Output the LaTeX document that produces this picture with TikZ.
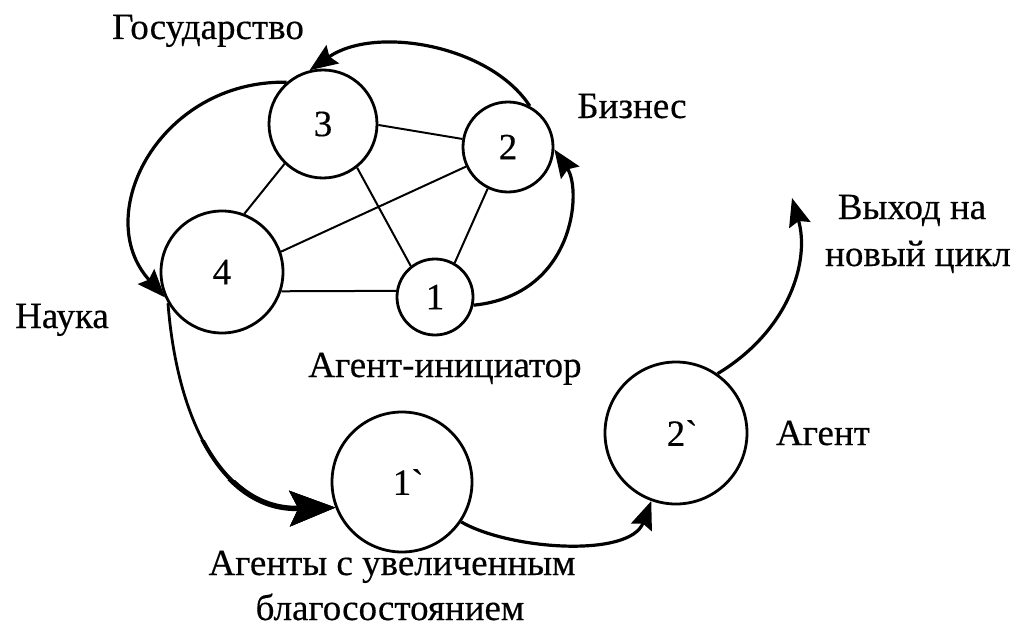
\documentclass[tikz,border=0pt]{standalone}
\usepackage{fontspec}
\setmainfont{LiberationSerif}[Extension=.ttf,UprightFont=*-Regular,BoldFont=*-Bold,FakeBold=0.4]
\usetikzlibrary{arrows.meta}
\begin{document}
\begin{tikzpicture}[x=1pt,y=-1pt,
  agent/.style={circle,draw,line width=2.8pt,inner sep=0pt,font=\fontsize{37}{40}\selectfont},
  link/.style={line width=2pt},
  flow/.style={line width=3.2pt,-{Stealth[length=28pt,width=22pt,inset=4pt]}},
  bigflow/.style={line width=2.8pt,-{Stealth[length=46pt,width=36pt,inset=9pt,line width=0pt]}},
  lbl/.style={font=\fontsize{37}{40}\selectfont,anchor=base,inner sep=0pt}]
\useasboundingbox (0,0) rectangle (1028,626);
% agents
\node[agent,minimum size=108pt] (n3) at (323,124) {3};
\node[agent,minimum size=90pt] (n2) at (508,147) {2};
\node[agent,minimum size=122pt] (n4) at (222,272) {4};
\node[agent,minimum size=76pt] (n1) at (435,297) {1};
\node[agent,minimum size=140pt] (n1p) at (402,482) {1\rlap{\textasciigrave}};
\node[agent,minimum size=142pt] (n2p) at (676,433) {2\rlap{\textasciigrave}};
\coordinate (out) at (792,198);
% labels
\node[lbl] (lgos) at (208,39) {Государство};
\node[lbl] (lbiz) at (632,118) {Бизнес};
\node[lbl] (lnauka) at (62,328) {Наука};
\node[lbl] (linit) at (445,377) {Агент-инициатор};
\node[lbl] (lag1) at (392,575) {Агенты с увеличенным};
\node[lbl] (lag2) at (390,620) {благосостоянием};
\node[lbl] (lagent) at (823,445) {Агент};
\node[lbl] (lout1) at (912,219) {Выход на};
\node[lbl] (lout2) at (918,266) {новый цикл};
% links
\draw[link] (n3.-1) -- (n2.170);
\draw[link] (n3.226) -- (n4.69);
\draw[link] (n3.-52) -- (n1.128);
\draw[link] (n4.19) -- (n2.205);
\draw[link] (n4.-18) -- (n1.171);
\draw[link] (n2.244) -- (n1.60);
% flows
\draw[flow] (n2.62) .. controls (490,45) and (375,25) .. (n3.104);
\draw[flow] (n3.131) .. controls (160,80) and (90,215) .. (n4.204);
\draw[flow] (n1.-12) .. controls (575,295) and (582,190) .. (n2.-3);
\draw[bigflow] (n4.210) .. controls (178,430) and (228,510) .. (n1p.201);
\begin{scope}
  \clip (0,440) rectangle (400,626);
  \draw[bigflow,line width=4pt] (n4.210) .. controls (178,430) and (228,510) .. (n1p.201);
\end{scope}
\begin{scope}
  \clip (0,480) rectangle (400,626);
  \draw[bigflow,line width=5.4pt] (n4.210) .. controls (178,430) and (228,510) .. (n1p.201);
\end{scope}
\draw[flow] (n1p.-34) .. controls (510,550) and (630,558) .. (n2p.250);
\draw[flow] (n2p.55) .. controls (790,330) and (810,260) .. (out);
\end{tikzpicture}
\end{document}
